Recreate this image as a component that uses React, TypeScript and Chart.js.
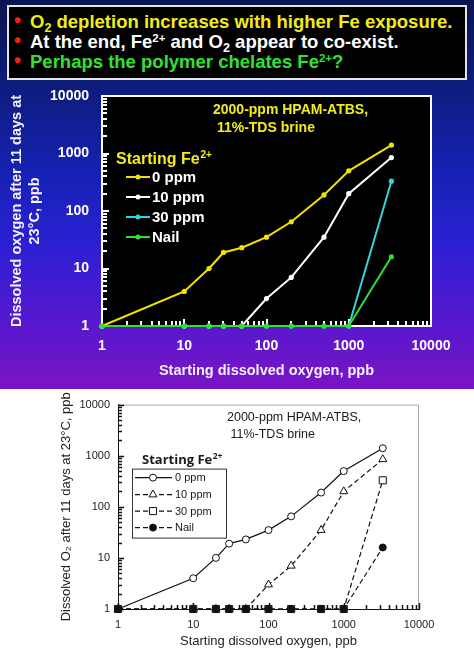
import React, { useEffect, useRef } from 'react';
import { Chart, registerables } from 'chart.js';

Chart.register(...registerables);

// ---------- data ----------
const startingO2 = [1, 10, 20, 30, 50, 100, 200, 500, 1000, 3300];
const fe0ppm = [1, 4, 10, 19, 23, 35, 65, 190, 500, 1400];
const fe10ppm = [1, 1, 1, 1, 1, 3, 7, 35, 200, 850];
const fe30ppm = [1, 1, 1, 1, 1, 1, 1, 1, 1, 330];
const feNail = [1, 1, 1, 1, 1, 1, 1, 1, 1, 16];
const seriesLabels = ['0 ppm', '10 ppm', '30 ppm', 'Nail'];
const decadeTicks = [1, 10, 100, 1000, 10000];
const minorMultipliers = [2, 3, 4, 5, 6, 7, 8, 9];
const annotationLines = ['2000-ppm HPAM-ATBS,', ' 11%-TDS brine'];
const legendTitleMain = 'Starting Fe';
const legendTitleSup = '2+';
const xTitle = 'Starting dissolved oxygen, ppb';
const yTitleTop = ['Dissolved oxygen after 11 days at', '23°C, ppb'];
const yTitleBottom = 'Dissolved O\u2082 after 11 days at 23°C, ppb';

const FONT = '"Liberation Sans", Arial, Helvetica, sans-serif';

const toPoints = (ys: number[]) => startingO2.map((x, i) => ({ x, y: ys[i] }));
const isDecade = (v: number) => decadeTicks.some((d) => Math.abs(d - v) < 1e-9);

const topColors = ['#f0e300', '#ffffff', '#33d4dc', '#2fe02f'];
const TEXT_YELLOW = '#f2ec1a';

function tickValues(): { v: number; major: boolean }[] {
  const out: { v: number; major: boolean }[] = [];
  for (const d of decadeTicks) {
    out.push({ v: d, major: true });
    if (d < 10000) for (const m of minorMultipliers) out.push({ v: d * m, major: false });
  }
  return out;
}

function drawInsideTicks(chart: any, color: string, majorLen: number, minorLen: number, lw: number) {
  const ctx: CanvasRenderingContext2D = chart.ctx;
  const area = chart.chartArea;
  const xs = chart.scales['x'];
  const ys = chart.scales['y'];
  const off = lw % 2 === 0 ? 0 : 0.5;
  ctx.save();
  ctx.strokeStyle = color;
  ctx.lineWidth = lw;
  ctx.setLineDash([]);
  ctx.lineCap = 'butt';
  for (const t of tickValues()) {
    const len = t.major ? majorLen : minorLen;
    const px = Math.round(xs.getPixelForValue(t.v)) + off;
    ctx.beginPath();
    ctx.moveTo(px, area.bottom);
    ctx.lineTo(px, area.bottom - len);
    ctx.stroke();
    const py = Math.round(ys.getPixelForValue(t.v)) + off;
    ctx.beginPath();
    ctx.moveTo(area.left, py);
    ctx.lineTo(area.left + len, py);
    ctx.stroke();
  }
  ctx.restore();
}

function drawMarker(ctx: CanvasRenderingContext2D, style: string, x: number, y: number, r: number, fill: string, stroke: string) {
  ctx.save();
  ctx.beginPath();
  if (style === 'triangle') {
    for (let k = 0; k < 3; k++) {
      const a = (k * 2 * Math.PI) / 3;
      const px = x + Math.sin(a) * r;
      const py = y - Math.cos(a) * r;
      if (k === 0) ctx.moveTo(px, py); else ctx.lineTo(px, py);
    }
    ctx.closePath();
  } else if (style === 'rect') {
    const s = r * Math.SQRT1_2;
    ctx.rect(x - s, y - s, 2 * s, 2 * s);
  } else {
    ctx.arc(x, y, r, 0, Math.PI * 2);
  }
  ctx.fillStyle = fill;
  ctx.fill();
  ctx.lineWidth = 1;
  ctx.strokeStyle = stroke;
  ctx.setLineDash([]);
  ctx.stroke();
  ctx.restore();
}

const topDecor = {
  id: 'topDecor',
  beforeDraw(chart: any) {
    const { ctx, chartArea: a } = chart;
    ctx.save();
    ctx.fillStyle = '#000';
    ctx.fillRect(a.left, a.top, a.right - a.left, a.bottom - a.top);
    ctx.restore();
  },
  beforeDatasetsDraw(chart: any) {
    const { ctx, chartArea: a } = chart;
    ctx.save();
    ctx.strokeStyle = '#ffffff';
    ctx.lineWidth = 2;
    ctx.strokeRect(a.left, a.top, a.right - a.left, a.bottom - a.top);
    ctx.restore();
    drawInsideTicks(chart, '#ffffff', 7, 5, 2);
  },
  afterDatasetsDraw(chart: any) {
    const { ctx, chartArea: a } = chart;
    ctx.save();
    ctx.textBaseline = 'middle';
    ctx.textAlign = 'left';
    ctx.fillStyle = TEXT_YELLOW;
    ctx.font = `bold 14px ${FONT}`;
    annotationLines.forEach((t, i) => ctx.fillText(t, a.left + 111, a.top + 14 + i * 18));
    // legend title
    ctx.font = `bold 16px ${FONT}`;
    const tx = a.left + 14;
    const ty = a.top + 64;
    ctx.fillText(legendTitleMain, tx, ty);
    const w = ctx.measureText(legendTitleMain).width;
    ctx.font = `bold 10px ${FONT}`;
    ctx.fillText(legendTitleSup, tx + w + 1, ty - 5);
    // items
    chart.data.datasets.forEach((ds: any, i: number) => {
      const y = a.top + 81 + i * 20;
      ctx.strokeStyle = ds.borderColor;
      ctx.lineWidth = 2;
      ctx.beginPath();
      ctx.moveTo(a.left + 24, y);
      ctx.lineTo(a.left + 48, y);
      ctx.stroke();
      ctx.fillStyle = ds.borderColor;
      ctx.beginPath();
      ctx.arc(a.left + 36, y, 2.5, 0, Math.PI * 2);
      ctx.fill();
      ctx.fillStyle = '#ffffff';
      ctx.font = `bold 15px ${FONT}`;
      ctx.fillText(ds.label, a.left + 50, y + 1);
    });
    ctx.restore();
  },
};

const bottomDecor = {
  id: 'bottomDecor',
  beforeDatasetsDraw(chart: any) {
    const { ctx, chartArea: a } = chart;
    ctx.save();
    ctx.strokeStyle = '#a8a8a8';
    ctx.lineWidth = 1;
    ctx.beginPath();
    ctx.moveTo(a.left, a.top + 0.5);
    ctx.lineTo(a.right - 0.5, a.top + 0.5);
    ctx.lineTo(a.right - 0.5, a.bottom);
    ctx.stroke();
    ctx.restore();
    drawInsideTicks(chart, '#111111', 6, 4, 1.5);
  },
  afterDatasetsDraw(chart: any) {
    const { ctx, chartArea: a } = chart;
    ctx.save();
    ctx.textBaseline = 'middle';
    ctx.textAlign = 'left';
    ctx.fillStyle = '#1a1a1a';
    ctx.font = `12.5px ${FONT}`;
    annotationLines.forEach((t, i) => ctx.fillText(t, a.left + 109, a.top + 13 + i * 17));
    // legend title
    ctx.font = `bold 13px "Open Sans", ${FONT}`;
    const tx = a.left + 24;
    const ty = a.top + 56;
    ctx.fillText(legendTitleMain, tx, ty);
    const w = ctx.measureText(legendTitleMain).width;
    ctx.font = `bold 8.5px "Open Sans", ${FONT}`;
    ctx.fillText(legendTitleSup, tx + w + 0.5, ty - 4);
    // box
    ctx.strokeStyle = '#333';
    ctx.lineWidth = 1;
    ctx.strokeRect(a.left + 14.5, a.top + 64.5, 94, 69);
    const rows = [73, 90, 106.5, 123];
    chart.data.datasets.forEach((ds: any, i: number) => {
      const y = a.top + rows[i];
      ctx.strokeStyle = ds.borderColor;
      ctx.lineWidth = 1.2;
      ctx.setLineDash(ds.borderDash || []);
      ctx.beginPath();
      ctx.moveTo(a.left + 17, y);
      ctx.lineTo(a.left + 54, y);
      ctx.stroke();
      ctx.setLineDash([]);
      drawMarker(ctx, ds.pointStyle, a.left + 35, y, ds.pointRadius, ds.pointBackgroundColor, ds.pointBorderColor);
      ctx.fillStyle = '#1a1a1a';
      ctx.font = `11px ${FONT}`;
      ctx.fillText(ds.label, a.left + 57, y + 0.5);
    });
    ctx.restore();
  },
};

function logAxis(opts: any) {
  return {
    type: 'logarithmic',
    min: 1,
    max: 10000,
    afterFit: opts.afterFit,
    ticks: {
      autoSkip: false,
      maxRotation: 0,
      minRotation: 0,
      color: opts.tickColor,
      font: opts.tickFont,
      padding: opts.tickPadding,
      callback: (v: number) => (isDecade(v) ? String(v) : ''),
    },
    grid: { display: false, drawTicks: false, drawOnChartArea: false },
    border: { display: true, color: opts.borderColor, width: opts.borderWidth },
    title: opts.title,
  };
}

function TopChart() {
  const ref = useRef<HTMLCanvasElement>(null);
  useEffect(() => {
    const seriesValues = [fe0ppm, fe10ppm, fe30ppm, feNail];
    const orders = [4, 3, 2, 1];
    const chart = new Chart(ref.current as HTMLCanvasElement, {
      type: 'line',
      data: {
        datasets: seriesValues.map((vals, i) => ({
          label: seriesLabels[i],
          data: toPoints(vals),
          borderColor: topColors[i],
          backgroundColor: topColors[i],
          pointBackgroundColor: topColors[i],
          pointBorderColor: topColors[i],
          borderWidth: 2,
          pointRadius: 2.6,
          pointBorderWidth: 0,
          order: orders[i],
          clip: false,
          tension: 0,
        })),
      },
      options: {
        animation: false,
        responsive: false,
        devicePixelRatio: 1,
        layout: { padding: { left: 0, right: 43, top: 96, bottom: 0 } },
        plugins: { legend: { display: false }, tooltip: { enabled: false } },
        scales: {
          x: logAxis({
            afterFit: (s: any) => { s.height = 63; },
            tickColor: '#ffffff',
            tickFont: { family: FONT, size: 14, weight: 'bold' },
            tickPadding: 12,
            borderColor: '#ffffff',
            borderWidth: 2,
            title: {
              display: true,
              text: xTitle,
              color: '#f6f0ff',
              font: { family: FONT, size: 14.5, weight: 'bold', lineHeight: 1.2 },
              padding: { top: 0, bottom: 9 },
            },
          }),
          y: logAxis({
            afterFit: (s: any) => { s.width = 102; },
            tickColor: '#ffffff',
            tickFont: { family: FONT, size: 14, weight: 'bold' },
            tickPadding: 13,
            borderColor: '#ffffff',
            borderWidth: 2,
            title: {
              display: true,
              text: yTitleTop,
              color: '#f6f0ff',
              font: { family: FONT, size: 14.5, weight: 'bold', lineHeight: 1.25 },
              padding: { top: 8, bottom: 0 },
            },
          }),
        },
      } as any,
      plugins: [topDecor],
    });
    return () => chart.destroy();
  }, []);
  return <canvas ref={ref} width={474} height={389} style={{ position: 'absolute', left: 0, top: 0, width: 474, height: 389 }} />;
}

function BottomChart() {
  const ref = useRef<HTMLCanvasElement>(null);
  useEffect(() => {
    const seriesValues = [fe0ppm, fe10ppm, fe30ppm, feNail];
    const styles = ['circle', 'triangle', 'rect', 'circle'];
    const radii = [3.5, 4.6, 5, 3.5];
    const fills = ['#ffffff', '#ffffff', '#ffffff', '#111111'];
    const dashes = [[], [5, 3], [5, 3], [5, 3]];
    const orders = [4, 3, 2, 1];
    const chart = new Chart(ref.current as HTMLCanvasElement, {
      type: 'line',
      data: {
        datasets: seriesValues.map((vals, i) => ({
          label: seriesLabels[i],
          data: toPoints(vals),
          borderColor: '#111111',
          borderWidth: 1.2,
          borderDash: dashes[i],
          pointStyle: styles[i],
          pointRadius: radii[i],
          pointBackgroundColor: fills[i],
          pointBorderColor: '#111111',
          pointBorderWidth: 1,
          order: orders[i],
          clip: false,
          tension: 0,
        })),
      },
      options: {
        animation: false,
        responsive: false,
        devicePixelRatio: 1,
        layout: { padding: { left: 0, right: 55, top: 12, bottom: 0 } },
        plugins: { legend: { display: false }, tooltip: { enabled: false } },
        scales: {
          x: logAxis({
            afterFit: (s: any) => { s.height = 40; },
            tickColor: '#222222',
            tickFont: { family: FONT, size: 11 },
            tickPadding: 9,
            borderColor: '#111111',
            borderWidth: 1,
            title: {
              display: true,
              text: xTitle,
              color: '#222222',
              font: { family: FONT, size: 13, lineHeight: 1.2 },
              padding: { top: 0, bottom: 0 },
            },
          }),
          y: logAxis({
            afterFit: (s: any) => { s.width = 118; },
            tickColor: '#222222',
            tickFont: { family: FONT, size: 11 },
            tickPadding: 8,
            borderColor: '#111111',
            borderWidth: 1,
            title: {
              display: true,
              text: yTitleBottom,
              color: '#222222',
              font: { family: FONT, size: 13, lineHeight: 1.2 },
              padding: { top: 59, bottom: 0 },
            },
          }),
        },
      } as any,
      plugins: [bottomDecor],
    });
    return () => chart.destroy();
  }, []);
  return <canvas ref={ref} width={474} height={259} style={{ position: 'absolute', left: 0, top: 390, width: 474, height: 259 }} />;
}

const bulletStyle: React.CSSProperties = {
  position: 'absolute',
  left: 5,
  top: -2,
  color: '#ff1a1a',
  fontSize: 20,
};
const subStyle: React.CSSProperties = { fontSize: '0.68em', verticalAlign: '-0.3em', lineHeight: 0 };
const supStyle: React.CSSProperties = { fontSize: '0.62em', verticalAlign: '0.5em', lineHeight: 0 };

function Header() {
  return (
    <div
      style={{
        position: 'absolute',
        left: 7,
        top: 5,
        width: 456,
        height: 66,
        paddingTop: 5,
        background: '#000',
        border: '2px solid #e4e4e4',
        fontFamily: FONT,
        fontWeight: 'bold',
        fontSize: 18.5,
        lineHeight: '20px',
        whiteSpace: 'nowrap',
      }}
    >
      <div style={{ position: 'relative', paddingLeft: 21, color: TEXT_YELLOW }}>
        <span style={bulletStyle}>•</span>
        O<span style={subStyle}>2</span> depletion increases with higher Fe exposure.
      </div>
      <div style={{ position: 'relative', paddingLeft: 21, color: '#ffffff' }}>
        <span style={bulletStyle}>•</span>
        At the end, Fe<span style={supStyle}>2+</span> and O<span style={subStyle}>2</span> appear to co-exist.
      </div>
      <div style={{ position: 'relative', paddingLeft: 21, color: '#33e033' }}>
        <span style={bulletStyle}>•</span>
        Perhaps the polymer chelates Fe<span style={supStyle}>2+</span>?
      </div>
    </div>
  );
}

export default function App() {
  return (
    <div style={{ position: 'absolute', left: 0, top: 0, width: 474, height: 649, background: '#ffffff', overflow: 'hidden' }}>
      <div
        style={{
          position: 'absolute',
          left: 0,
          top: 0,
          width: 474,
          height: 389,
          background:
            'linear-gradient(to bottom, #0a1450 0%, #0e1c7c 22%, #1622b4 45%, #2a20d2 62%, #5518cf 82%, #7a14c4 100%)',
        }}
      />
      <Header />
      <TopChart />
      <BottomChart />
    </div>
  );
}
